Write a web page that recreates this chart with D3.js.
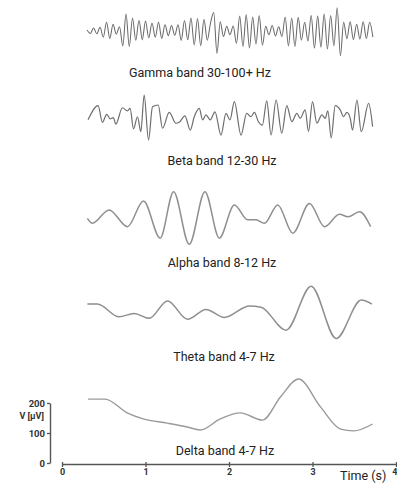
<!DOCTYPE html>
<html><head><meta charset="utf-8">
<script src="https://cdn.jsdelivr.net/npm/d3@7"></script>
<style>body{margin:0;background:#fff}svg{display:block}</style>
</head><body>
<svg id="c" width="397" height="484"></svg>
<script>
// ---- data ----
const xTicks = [0, 1, 2, 3, 4];
const yTicks = [0, 100, 200];
const bandLabels = ["Gamma band 30-100+ Hz", "Beta band 12-30 Hz", "Alpha band 8-12 Hz", "Theta band 4-7 Hz", "Delta band 4-7 Hz"];

// Gamma: sampled extrema, start time and step (s), values in µV
const gammaStart = 0.30, gammaStep = 0.0389;
const gammaV = [3, -8, 10, -9, 12,
  -20, 28, -24, 22,
  -10, 14,
  -48, 55, -50, 42,
  -30, 35, -28, 32,
  -22, 26, -20, 28, -24, 20,
  -15, 18, -14, 20,
  -30, 34, -28,
  42, -45, 40, -48, 38,
  -30, 25,
  60, -72,
  30, -18, 15, -12, 16,
  -40, 48, -50, 52, -55, 45, -42, 50, -46,
  15, -12, 18, -16, 14, -18,
  45, -48, 42, -50, 44,
  -30, 28, -32,
  50, -55, 48, -52, 55, -58, 50, -48,
  75, -80,
  28, -25, 30, -28, 22, -26, 30, -24, 28, -20];

const betaT = [0.312,0.432,0.484,0.536,0.576,0.616,0.644,0.724,0.784,0.816,0.856,0.904,0.944,0.984,1.036,1.084,1.152,1.204,1.284,1.364,1.404,1.472,1.536,1.584,1.644,1.684,1.724,1.776,1.832,1.904,1.964,2.012,2.064,2.144,2.212,2.264,2.304,2.352,2.4,2.452,2.504,2.564,2.632,2.692,2.752,2.812,2.852,2.912,2.952,3.0,3.052,3.112,3.152,3.184,3.224,3.272,3.332,3.372,3.412,3.452,3.48,3.532,3.584,3.672,3.72];
const betaV = [-6,40,-14,12,-3,1,-20,33,23,31,-35,4,-44,74,-71,36,42,-33,18,-17,-14,7,-39,4,31,-6,10,-6,20,-55,15,-6,53,-55,15,4,18,-12,-23,55,-55,58,-49,40,-12,15,-1,26,-44,53,-17,10,-1,23,-64,40,26,4,18,-1,-39,58,-44,47,-28];

const alphaT = [0.304,0.364,0.564,0.784,0.976,1.176,1.336,1.524,1.712,1.884,2.064,2.224,2.324,2.424,2.584,2.764,2.964,3.144,3.324,3.424,3.564,3.696];
const alphaV = [-1,-17,26,-28,55,-65,85,-85,85,-65,42,-6,-6,-17,42,-49,47,-28,12,4,20,-28];

const thetaT = [0.304,0.424,0.684,0.864,1.044,1.264,1.504,1.724,1.944,2.244,2.384,2.684,2.984,3.284,3.584,3.712];
const thetaV = [19,19,-22,-11,-27,29,-30,2,-24,13,9,-65,77,-92,32,19];

const deltaT = [0.312,0.516,0.78,0.972,1.26,1.5,1.656,1.896,2.136,2.4,2.616,2.832,3.096,3.336,3.492,3.72];
const deltaV = [213,213,167,147,133,120,110,147,167,143,220,280,187,113,107,130];

// ---- drawing ----
const svg = d3.select("#c");
const x = d3.scaleLinear().domain([0, 4]).range([62, 396]);
const yDelta = d3.scaleLinear().domain([0, 200]).range([463, 403]);
const band = (c) => d3.scaleLinear().domain([-100, 100]).range([c + 31, c - 31]);

const series = [
  {t: gammaV.map((_, i) => gammaStart + i * gammaStep), v: gammaV, y: band(31), color: "#6a6a6a", w: 1.05},
  {t: betaT, v: betaV, y: band(118), color: "#6e6e6e", w: 1.2},
  {t: alphaT, v: alphaV, y: band(218), color: "#8f8f8f", w: 1.5},
  {t: thetaT, v: thetaV, y: band(310), color: "#8f8f8f", w: 1.5},
  {t: deltaT, v: deltaV, y: yDelta, color: "#9a9a9a", w: 1.4}
];

series.forEach(s => {
  const line = d3.line().x((d, i) => x(s.t[i])).y(d => s.y(d)).curve(d3.curveMonotoneX);
  svg.append("path").attr("d", line(s.v)).attr("fill", "none")
    .attr("stroke", s.color).attr("stroke-width", s.w).attr("stroke-linejoin", "round");
});

const labelFont = "Roboto, sans-serif";
const labelPos = [[200, 77], [222, 165], [222, 267], [224, 361], [225, 455]];
bandLabels.forEach((l, i) => {
  svg.append("text").attr("x", labelPos[i][0]).attr("y", labelPos[i][1])
    .attr("text-anchor", "middle").attr("font-family", labelFont)
    .attr("font-size", 12.5).attr("fill", "#222").text(l);
});

// x axis
const xa = svg.append("g").attr("transform", "translate(0,464)")
  .call(d3.axisBottom(x).tickValues(xTicks).tickFormat(d3.format("d")).tickSize(3).tickSizeOuter(0));
xa.select(".domain").attr("stroke", "#555").attr("stroke-width", 1.4);
xa.selectAll(".tick line").attr("y1", -2).attr("stroke", "#555").attr("stroke-width", 1.3);
xa.selectAll(".tick text").attr("font-family", "Roboto, sans-serif").attr("font-weight", 700)
  .attr("font-size", 9).attr("fill", "#333").attr("y", 5)
  .filter(d => d === 4).attr("text-anchor", "end").attr("x", 1);

// y axis
const ya = svg.append("g").attr("transform", "translate(50,0)")
  .call(d3.axisLeft(yDelta).tickValues(yTicks).tickSize(3).tickSizeOuter(0));
ya.select(".domain").attr("stroke", "#555").attr("stroke-width", 1.4);
ya.selectAll(".tick line").attr("stroke", "#555").attr("stroke-width", 1.3);
ya.selectAll(".tick text").attr("font-family", "Roboto, sans-serif").attr("font-weight", 700)
  .attr("font-size", 9.5).attr("fill", "#333").attr("x", -5);

svg.append("text").attr("x", 44).attr("y", 419).attr("text-anchor", "end")
  .attr("font-family", "Roboto, sans-serif").attr("font-weight", 700).attr("font-size", 9)
  .attr("fill", "#333").text("V [µV]");

svg.append("text").attr("x", 340).attr("y", 480)
  .attr("font-family", labelFont).attr("font-size", 12.5)
  .attr("fill", "#222").text("Time (s)");
</script>
</body></html>
